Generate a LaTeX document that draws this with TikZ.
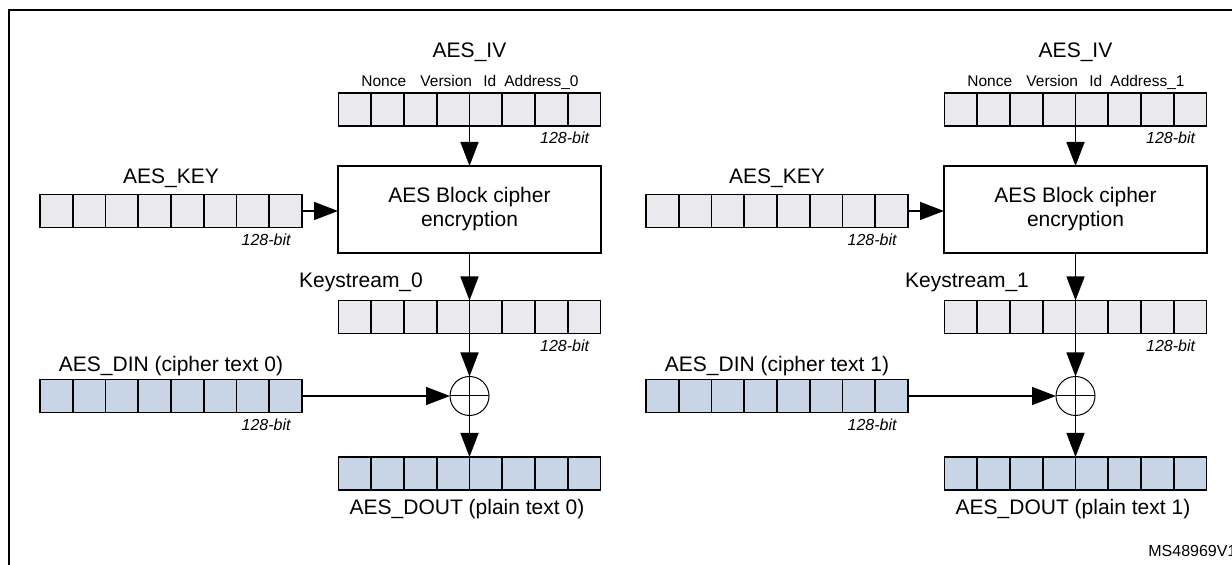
\documentclass[tikz,border=0pt]{standalone}
\usepackage{fontspec}
\setmainfont{Liberation Sans}
\usetikzlibrary{arrows.meta,calc}
\definecolor{cellgrey}{RGB}{233,233,238}
\definecolor{cellblue}{RGB}{199,213,230}
\tikzset{
  reg/.style={draw, line width=0.85pt, minimum width=131pt, minimum height=16.5pt,
    inner sep=0pt, outer sep=0pt,
    path picture={\foreach \i in {1,...,7}{\draw[line width=0.8pt]
      ($(path picture bounding box.south west)!\i/8!(path picture bounding box.south east)$) --
      ($(path picture bounding box.north west)!\i/8!(path picture bounding box.north east)$);}}},
  greyreg/.style={reg, fill=cellgrey},
  bluereg/.style={reg, fill=cellblue},
  cipher/.style={draw, line width=0.8pt, minimum width=131.5pt, minimum height=43.5pt,
    align=center, font=\fontsize{10.5}{12}\selectfont, inner sep=0pt, outer sep=0pt},
  xorop/.style={circle, draw, line width=0.5pt, minimum size=19.5pt, inner sep=0pt, outer sep=0pt,
    path picture={\draw[line width=0.5pt]
      (path picture bounding box.north) -- (path picture bounding box.south)
      (path picture bounding box.west) -- (path picture bounding box.east);}},
  lbl/.style={font=\fontsize{10.5}{12}\selectfont, inner sep=0pt, anchor=base},
  field/.style={font=\fontsize{7.75}{9}\selectfont, inner sep=0pt, anchor=base west},
  bitlbl/.style={font=\fontsize{8}{9}\selectfont\itshape, inner sep=0pt, anchor=base east},
  flow/.style={line width=0.75pt, -{Triangle[length=12pt,width=9pt]}},
}
\begin{document}
\begin{tikzpicture}[x=0.5pt,y=-0.5pt]
\clip (0,0) rectangle (1232,565);
\fill[white] (0,0) rectangle (1232,565);
\draw[line width=1pt] (8.5,10.5) rectangle (1260,600);
\foreach \p/\s in {0/0,1/606}{
  \begin{scope}[shift={(\s,0)}]
    % AES_IV
    \node[lbl] (ivlbl\p) at (469.5,58) {AES\_IV};
    \node[field] (nonce\p) at (361,87) {Nonce};
    \node[field] (ver\p) at (420,87) {Version};
    \node[field] (id\p) at (483,87) {Id};
    \node[field] (addr\p) at (504,87) {Address\_\p};
    \node[greyreg] (iv\p) at (469.5,109.5) {};
    \node[bitlbl] (ivbits\p) at ([xshift=-5.5pt,yshift=-9pt]iv\p.south east) {128-bit};
    % block
    \node[cipher] (aes\p) at (469.5,209.5) {AES Block cipher\\encryption};
    % key
    \node[lbl] (keylbl\p) at (171,184) {AES\_KEY};
    \node[greyreg] (key\p) at (171,211) {};
    \node[bitlbl] (keybits\p) at ([xshift=-5.5pt,yshift=-9pt]key\p.south east) {128-bit};
    % keystream
    \node[lbl] (kslbl\p) at (361,288) {Keystream\_\p};
    \node[greyreg] (ks\p) at (469.5,317) {};
    \node[bitlbl] (ksbits\p) at ([xshift=-5.5pt,yshift=-9pt]ks\p.south east) {128-bit};
    % din
    \node[lbl] (dinlbl\p) at (171,372) {AES\_DIN (cipher text \p)};
    \node[bluereg] (din\p) at (171,396) {};
    \node[bitlbl] (dinbits\p) at ([xshift=-5.5pt,yshift=-9pt]din\p.south east) {128-bit};
    % xor
    \node[xorop] (xor\p) at (469.5,396) {};
    % dout
    \node[bluereg] (dout\p) at (469.5,473.5) {};
    \node[lbl] (doutlbl\p) at (467,515) {AES\_DOUT (plain text \p)};
    % connectors
    \draw[flow] (iv\p) -- (aes\p);
    \draw[flow] (key\p.east) -- (key\p.east -| aes\p.west);
    \draw[flow] (aes\p) -- (ks\p);
    \draw[flow] (ks\p) -- (xor\p);
    \draw[flow] (din\p.east) -- (xor\p.west);
    \draw[flow] (xor\p) -- (dout\p);
  \end{scope}
}
\node[font=\fontsize{8}{9}\selectfont, inner sep=0pt, anchor=base west] (ms) at (1148,557) {MS48969V1};
\end{tikzpicture}
\end{document}
